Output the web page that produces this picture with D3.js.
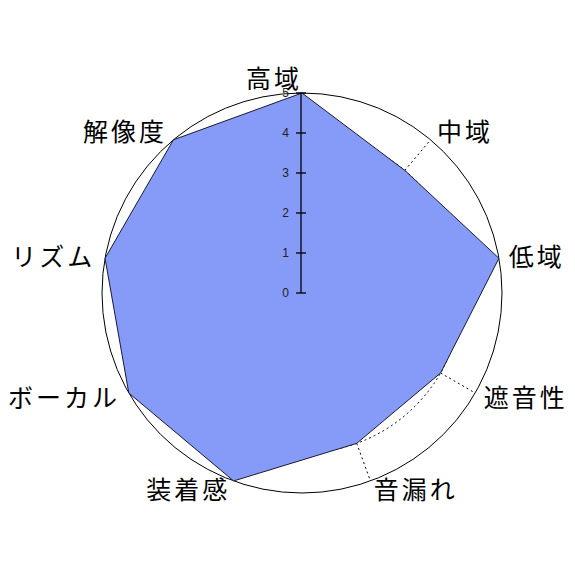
<!DOCTYPE html>
<html>
<head>
<meta charset="utf-8">
<script src="https://cdn.jsdelivr.net/npm/d3@7"></script>
<style>
  html, body { margin: 0; padding: 0; background: #fff; }
  svg { display: block; }
</style>
</head>
<body>
<svg id="chart" width="575" height="575"></svg>
<script>
// ---- data ----
const categories = ["高域", "中域", "低域", "遮音性", "音漏れ", "装着感", "ボーカル", "リズム", "解像度"];
const values = [5, 4, 5, 4, 4, 5, 5, 5, 5];
const tickValues = [0, 1, 2, 3, 4, 5];
const gridLevels = [1, 2, 3, 4];

// ---- layout ----
const W = 575, H = 575;
const cx = 302, cy = 293, R = 200;
const svg = d3.select("#chart");

const r = d3.scaleLinear().domain([0, 5]).range([0, R]);
const ang = d3.scaleLinear().domain([0, categories.length]).range([0, 2 * Math.PI]);
const pt = (i, v) => [cx + r(v) * Math.sin(ang(i)), cy - r(v) * Math.cos(ang(i))];

// dotted inner grid circles
svg.append("g").selectAll("circle").data(gridLevels).join("circle")
  .attr("cx", cx).attr("cy", cy).attr("r", d => r(d))
  .attr("fill", "none").attr("stroke", "#000").attr("stroke-width", 1)
  .attr("stroke-dasharray", "2,3");

// outer solid circle
svg.append("circle").attr("cx", cx).attr("cy", cy).attr("r", r(5))
  .attr("fill", "none").attr("stroke", "#000").attr("stroke-width", 1);

// dotted radial axes
svg.append("g").selectAll("line").data(categories).join("line")
  .attr("x1", cx).attr("y1", cy)
  .attr("x2", (d, i) => pt(i, 5)[0]).attr("y2", (d, i) => pt(i, 5)[1])
  .attr("stroke", "#000").attr("stroke-width", 1).attr("stroke-dasharray", "2,3");

// data polygon
const line = d3.line().curve(d3.curveLinearClosed);
svg.append("path")
  .attr("d", line(values.map((v, i) => pt(i, v))))
  .attr("fill", "#869BF7").attr("stroke", "#1a1a2e").attr("stroke-width", 1);

// scale axis (vertical)
const yScale = d3.scaleLinear().domain([0, 5]).range([cy, cy - R]);
const axisG = svg.append("g").attr("transform", `translate(${cx - 1},0)`);
axisG.append("line").attr("x1", 0).attr("x2", 0)
  .attr("y1", yScale(0)).attr("y2", yScale(5))
  .attr("stroke", "#000").attr("stroke-width", 1.3);
axisG.selectAll("line.tick").data(tickValues).join("line")
  .attr("class", "tick")
  .attr("x1", -5).attr("x2", 5)
  .attr("y1", d => yScale(d)).attr("y2", d => yScale(d))
  .attr("stroke", "#000").attr("stroke-width", 1.3);
axisG.selectAll("text").data(tickValues).join("text")
  .attr("x", -12).attr("y", d => yScale(d))
  .attr("dy", "0.36em")
  .attr("text-anchor", "end")
  .attr("font-family", "Liberation Sans, Arial, sans-serif")
  .attr("font-size", 12)
  .attr("fill", "#222")
  .text(d => d);

// category labels
const LR = 210;
svg.append("g").selectAll("text").data(categories).join("text")
  .attr("x", (d, i) => cx + LR * Math.sin(ang(i)))
  .attr("y", (d, i) => cy - LR * Math.cos(ang(i)) - (i === 0 ? 4 : 0))
  .attr("dy", "0.36em")
  .attr("text-anchor", (d, i) => {
    const a = ang(i);
    return (a > 0.01 && a < Math.PI) ? "start" : "end";
  })
  .attr("font-family", "'Noto Sans CJK JP', sans-serif")
  .attr("font-size", 25)
  .attr("letter-spacing", 3)
  .attr("fill", "#000")
  .text(d => d);
</script>
</body>
</html>
